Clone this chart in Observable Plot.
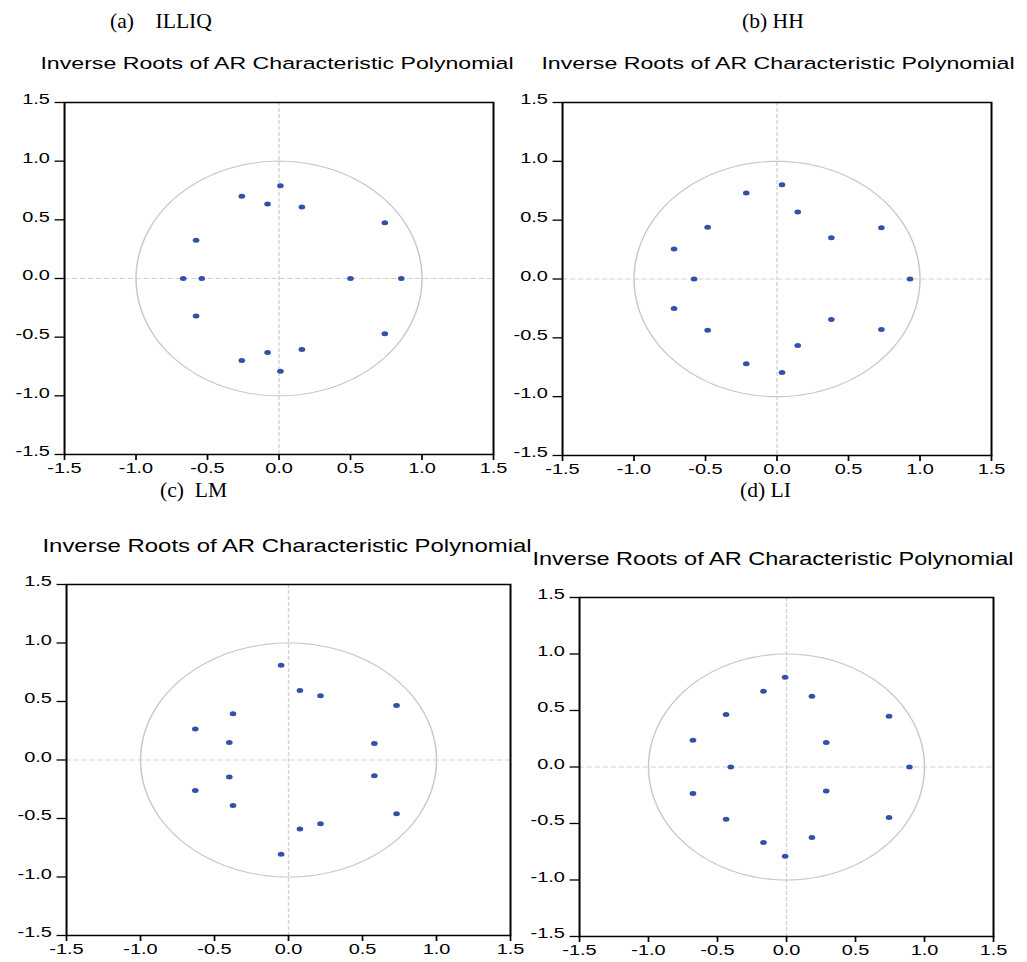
<!DOCTYPE html>
<html>
<head>
<meta charset="utf-8">
<script src="https://cdn.jsdelivr.net/npm/d3@7"></script>
<script src="https://cdn.jsdelivr.net/npm/@observablehq/plot@0.6"></script>
<style>
  html, body { margin: 0; padding: 0; background: #fff; }
  #page { position: relative; width: 1027px; height: 962px; overflow: hidden; background: #fff; }
  .panel { position: absolute; transform-origin: 0 0; }
  .panel svg { overflow: visible; background: transparent; }
  #overlay { position: absolute; left: 0; top: 0; pointer-events: none; }
</style>
</head>
<body>
<div id="page"></div>
<script>
// ---------- data (inverse roots: real part, imaginary part) ----------
const panelHeaders = ["(a)    ILLIQ", "(b) HH", "(c)  LM", "(d) LI"];
const chartTitle = "Inverse Roots of AR Characteristic Polynomial";
const tickValues = [-1.5, -1.0, -0.5, 0.0, 0.5, 1.0, 1.5];

const illiqRe = [0.01, -0.26, -0.08, 0.16, 0.74, -0.58, -0.67, -0.54, 0.50, 0.855, -0.58, 0.74, 0.16, -0.08, -0.26, 0.01];
const illiqIm = [0.79, 0.70, 0.635, 0.61, 0.475, 0.325, 0.0, 0.0, 0.0, 0.0, -0.32, -0.47, -0.605, -0.63, -0.70, -0.79];

const hhRe = [0.035, -0.215, 0.145, -0.485, 0.73, 0.38, -0.72, -0.58, 0.93, -0.72, 0.38, 0.73, -0.485, 0.145, -0.215, 0.035];
const hhIm = [0.80, 0.73, 0.57, 0.44, 0.435, 0.35, 0.255, 0.0, 0.0, -0.25, -0.345, -0.43, -0.435, -0.565, -0.72, -0.795];

const lmRe = [-0.05, 0.077, 0.216, 0.73, -0.375, -0.63, -0.40, 0.58, 0.58, -0.40, -0.63, -0.375, 0.73, 0.216, 0.077, -0.05];
const lmIm = [0.81, 0.595, 0.55, 0.465, 0.395, 0.265, 0.15, 0.14, -0.135, -0.145, -0.26, -0.39, -0.46, -0.545, -0.59, -0.805];

const liRe = [-0.01, -0.167, 0.184, -0.438, 0.743, -0.678, 0.288, -0.404, 0.891, -0.678, 0.288, -0.438, 0.743, -0.167, 0.184, -0.01];
const liIm = [0.795, 0.67, 0.625, 0.465, 0.45, 0.237, 0.216, 0.0, 0.0, -0.234, -0.212, -0.463, -0.448, -0.668, -0.623, -0.789];

// ---------- layout ----------
const S = 1.33; // horizontal stretch of the original graphs
const page = document.getElementById("page");

// unit circle reference (geometry, not data)
const unitCircle = d3.range(0, 361, 2).map(a => ({x: Math.cos(a * Math.PI / 180), y: Math.sin(a * Math.PI / 180)}));

function panel(re, im, frame) {
  const ml = 42, mr = 22, mt = 12, mb = 34;
  const fw = (frame.x1 - frame.x0) / S;
  const fh = frame.y1 - frame.y0;
  const roots = re.map((x, i) => ({x, y: im[i]}));
  const fmt = d => d.toFixed(1);
  const chart = Plot.plot({
    width: ml + fw + mr,
    height: mt + fh + mb,
    marginLeft: ml, marginRight: mr, marginTop: mt, marginBottom: mb,
    x: {domain: [-1.5, 1.5]},
    y: {domain: [-1.5, 1.5]},
    style: {fontFamily: "'Liberation Sans', Arial, sans-serif", fontSize: "15px", color: "#000", background: "transparent", overflow: "visible"},
    marks: [
      Plot.ruleX([0], {stroke: "#d2d2d2", strokeWidth: 1, strokeDasharray: "4,2"}),
      Plot.ruleY([0], {stroke: "#d2d2d2", strokeWidth: 1, strokeDasharray: "4,2"}),
      Plot.line(unitCircle, {x: "x", y: "y", stroke: "#c8c8c8", strokeWidth: 1.1}),
      Plot.dot(roots, {x: "x", y: "y", r: 2.5, fill: "#3351a8", stroke: "none"}),
      Plot.frame({stroke: "#000", strokeWidth: 1.5}),
      Plot.axisX({ticks: tickValues, tickFormat: fmt, tickSize: 6, tickPadding: 2, label: null, stroke: "#000", strokeWidth: 1.3, fill: "#000"}),
      Plot.axisY({ticks: tickValues, tickFormat: () => "", tickSize: 7, label: null, stroke: "#000", strokeWidth: 1.3}),
      Plot.axisY({ticks: tickValues, tickFormat: fmt, tickSize: 0, tickPadding: 11, dy: -3, label: null, fill: "#000"})
    ]
  });
  const wrap = document.createElement("div");
  wrap.className = "panel";
  wrap.style.left = (frame.x0 - S * ml) + "px";
  wrap.style.top = (frame.y0 - mt) + "px";
  wrap.style.transform = `scaleX(${S})`;
  wrap.appendChild(chart);
  page.appendChild(wrap);
}

panel(illiqRe, illiqIm, {x0: 64, x1: 493, y0: 102, y1: 454});
panel(hhRe, hhIm, {x0: 562, x1: 991, y0: 102, y1: 455});
panel(lmRe, lmIm, {x0: 66, x1: 510, y0: 584, y1: 935});
panel(liRe, liIm, {x0: 579, x1: 993, y0: 597, y1: 936});

// ---------- headers and titles ----------
const overlay = d3.select(page).append("svg")
  .attr("id", "overlay").attr("width", 1027).attr("height", 962);

const headerPos = [{x: 110, y: 28}, {x: 742, y: 28}, {x: 160, y: 497}, {x: 740, y: 497}];
const titlePos = [{x: 277, y: 69, size: 17.4}, {x: 778, y: 69, size: 17.4}, {x: 287, y: 552, size: 18}, {x: 773, y: 565, size: 17.7}];

panelHeaders.forEach((h, i) => {
  overlay.append("text")
    .attr("transform", `translate(${headerPos[i].x},${headerPos[i].y}) scale(1.08,1)`)
    .attr("font-family", "'Liberation Serif', 'Times New Roman', serif")
    .attr("font-size", 20)
    .attr("fill", "#000")
    .style("white-space", "pre")
    .text(h);
});

titlePos.forEach(p => {
  overlay.append("text")
    .attr("transform", `translate(${p.x},${p.y}) scale(${S},1)`)
    .attr("text-anchor", "middle")
    .attr("font-family", "'Liberation Sans', Arial, sans-serif")
    .attr("font-size", p.size)
    .attr("fill", "#000")
    .text(chartTitle);
});
</script>
</body>
</html>
